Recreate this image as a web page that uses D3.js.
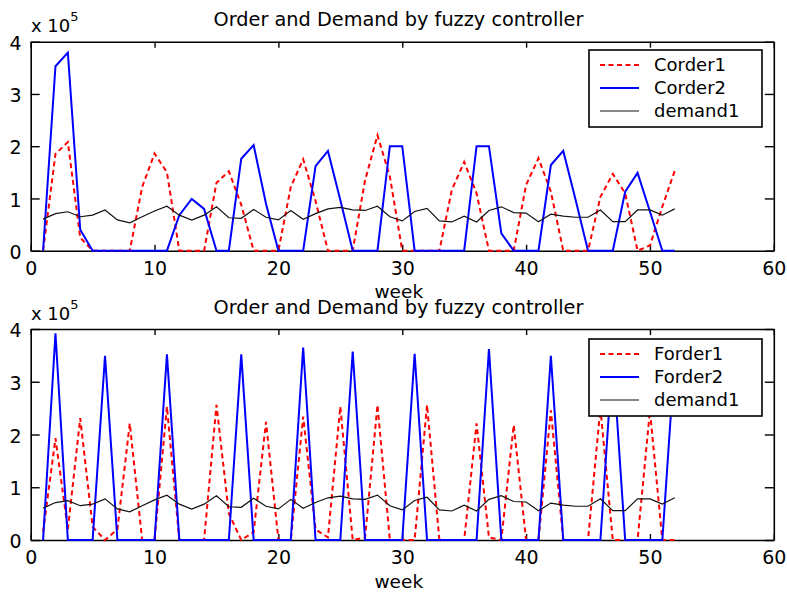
<!DOCTYPE html>
<html>
<head>
<meta charset="utf-8">
<script src="https://cdn.jsdelivr.net/npm/d3@7"></script>
<style>
  html, body { margin: 0; padding: 0; background: #fff; }
  svg { display: block; }
  text { font-family: "DejaVu Sans", sans-serif; fill: #000; }
</style>
</head>
<body>
<svg id="chart" width="787" height="592"></svg>
<script>
// ---- data (values in units of 10^5) ----
const weeks = [1,2,3,4,5,6,7,8,9,10,11,12,13,14,15,16,17,18,19,20,21,22,23,24,25,26,
               27,28,29,30,31,32,33,34,35,36,37,38,39,40,41,42,43,44,45,46,47,48,49,50,51,52];

const demand1 = [0.605,0.71,0.745,0.65,0.68,0.78,0.59,0.535,0.65,0.76,0.85,0.68,0.585,0.68,0.84,0.63,
                 0.62,0.79,0.64,0.59,0.77,0.60,0.71,0.80,0.83,0.78,0.77,0.85,0.65,0.57,0.75,0.81,
                 0.57,0.55,0.66,0.55,0.77,0.84,0.73,0.72,0.555,0.70,0.66,0.64,0.64,0.78,0.555,0.555,
                 0.78,0.78,0.68,0.80];

const corder1 = [0,1.85,2.08,0.25,0,0,0,0,1.22,1.86,1.5,0,0,0,1.3,1.52,0.88,0,0,0,1.22,1.75,0.95,0,
                 0,0,1.35,2.21,1.42,0,0,0,0,1.16,1.70,1.1,0,0,0,1.26,1.77,1.13,0,0,0,1.03,1.47,1.1,
                 0,0.1,0.84,1.53];

const corder2 = [0,3.53,3.79,0.4,0,0,0,0,0,0,0,0.68,0.99,0.8,0,0,1.76,2.02,0.9,0,0,0,1.62,1.91,0.97,0,
                 0,0,2.0,2.0,0,0,0,0,0,2.0,2.0,0.33,0,0,0,1.64,1.91,0.97,0,0,0,1.13,1.49,0.75,0,0];

const forder1 = [0.15,1.93,0.2,2.31,0.25,0,0.2,2.21,0,0,2.53,0,0,0,2.56,0.5,0,0.15,2.24,0,0,2.34,0.2,0.05,
                 2.53,0,0.05,2.56,0,0,0,2.56,0,0,0,2.21,0.05,0,2.18,0,0,2.46,0,0,0,2.5,0,0,0,2.45,0,0];

const forder2 = [0,3.92,0,0,0,3.49,0,0,0,0,3.52,0,0,0,0,0,3.52,0,0,0,0,3.65,0,0,0,3.57,0,0,0,0,3.53,0,
                 0,0,0,0,3.62,0,0,0,0,3.49,0,0,0,0,3.5,0,0,0,0,3.46];

const xTicks = [0,10,20,30,40,50,60];
const yTicks = [0,1,2,3,4];
const titleText = "Order and Demand by fuzzy controller";
const xLabel = "week";
const legendTop = ["Corder1","Corder2","demand1"];
const legendBottom = ["Forder1","Forder2","demand1"];

// ---- drawing ----
const svg = d3.select("#chart");
const left = 30.7, right = 773.8;

function panel(top, bottom, s1, s2, names, legY) {
  const x = d3.scaleLinear().domain([0, 60]).range([left, right]);
  const y = d3.scaleLinear().domain([0, 4]).range([bottom, top]);
  const g = svg.append("g");

  // title
  g.append("text").attr("x", 398.5).attr("y", top - 15.5)
    .attr("text-anchor", "middle").style("font-size", "19.3px").text(titleText);
  // x 10^5
  const ex = g.append("text").attr("x", 31).attr("y", top - 9.5).style("font-size", "18px");
  ex.append("tspan").text("x 10");
  ex.append("tspan").attr("dy", -11).style("font-size", "13px").text("5");
  // x label
  g.append("text").attr("x", 398.8).attr("y", bottom + 47.5)
    .attr("text-anchor", "middle").style("font-size", "18.5px").text(xLabel);

  // axes
  const ax = g.append("g").attr("transform", `translate(0,${bottom})`)
    .call(d3.axisBottom(x).tickValues(xTicks).tickSize(-6).tickSizeOuter(0).tickFormat(d3.format("d")));
  ax.selectAll("text").attr("y", 24).attr("dy", 0).style("font-size", "19px");
  g.append("g").attr("transform", `translate(0,${top})`)
    .call(d3.axisTop(x).tickValues(xTicks).tickSize(-6).tickSizeOuter(0).tickFormat(""));
  const ay = g.append("g").attr("transform", `translate(${left},0)`)
    .call(d3.axisLeft(y).tickValues(yTicks).tickSize(-9).tickSizeOuter(0).tickPadding(9).tickFormat(d3.format("d")));
  ay.selectAll("text").attr("dy", "0.4em").style("font-size", "19px");
  g.append("g").attr("transform", `translate(${right},0)`)
    .call(d3.axisRight(y).tickValues(yTicks).tickSize(-9).tickSizeOuter(0).tickFormat(""));
  g.selectAll(".domain").attr("stroke", "#000").attr("stroke-width", 1.6);
  g.selectAll(".tick line").attr("stroke", "#000").attr("stroke-width", 1.4);
  g.selectAll(".tick text").style("font-family", "DejaVu Sans").attr("fill", "#000");

  const line = d3.line().x((d, i) => x(weeks[i])).y(d => y(d));
  g.append("path").datum(s1).attr("d", line).attr("fill", "none")
    .attr("stroke", "#ff0000").attr("stroke-width", 2).attr("stroke-dasharray", "5,3.5");
  g.append("path").datum(s2).attr("d", line).attr("fill", "none")
    .attr("stroke", "#0000ff").attr("stroke-width", 2);
  g.append("path").datum(demand1).attr("d", line).attr("fill", "none")
    .attr("stroke", "#111").attr("stroke-width", 1.2);

  // legend
  const lg = g.append("g");
  lg.append("rect").attr("x", 589).attr("y", legY).attr("width", 173).attr("height", 77)
    .attr("fill", "#fff").attr("stroke", "#000").attr("stroke-width", 1.6);
  const styles = [
    {c: "#ff0000", w: 2, d: "5,3.5"},
    {c: "#0000ff", w: 2, d: null},
    {c: "#111", w: 1.2, d: null}
  ];
  names.forEach((n, i) => {
    const cy = legY + 15 + i * 23;
    lg.append("line").attr("x1", 600).attr("x2", 639).attr("y1", cy).attr("y2", cy)
      .attr("stroke", styles[i].c).attr("stroke-width", styles[i].w)
      .attr("stroke-dasharray", styles[i].d);
    lg.append("text").attr("x", 654).attr("y", cy).attr("dy", "0.36em")
      .style("font-size", "18px").text(n);
  });
}

panel(41.7, 250.7, corder1, corder2, legendTop, 50);
panel(329, 540, forder1, forder2, legendBottom, 339);
</script>
</body>
</html>
